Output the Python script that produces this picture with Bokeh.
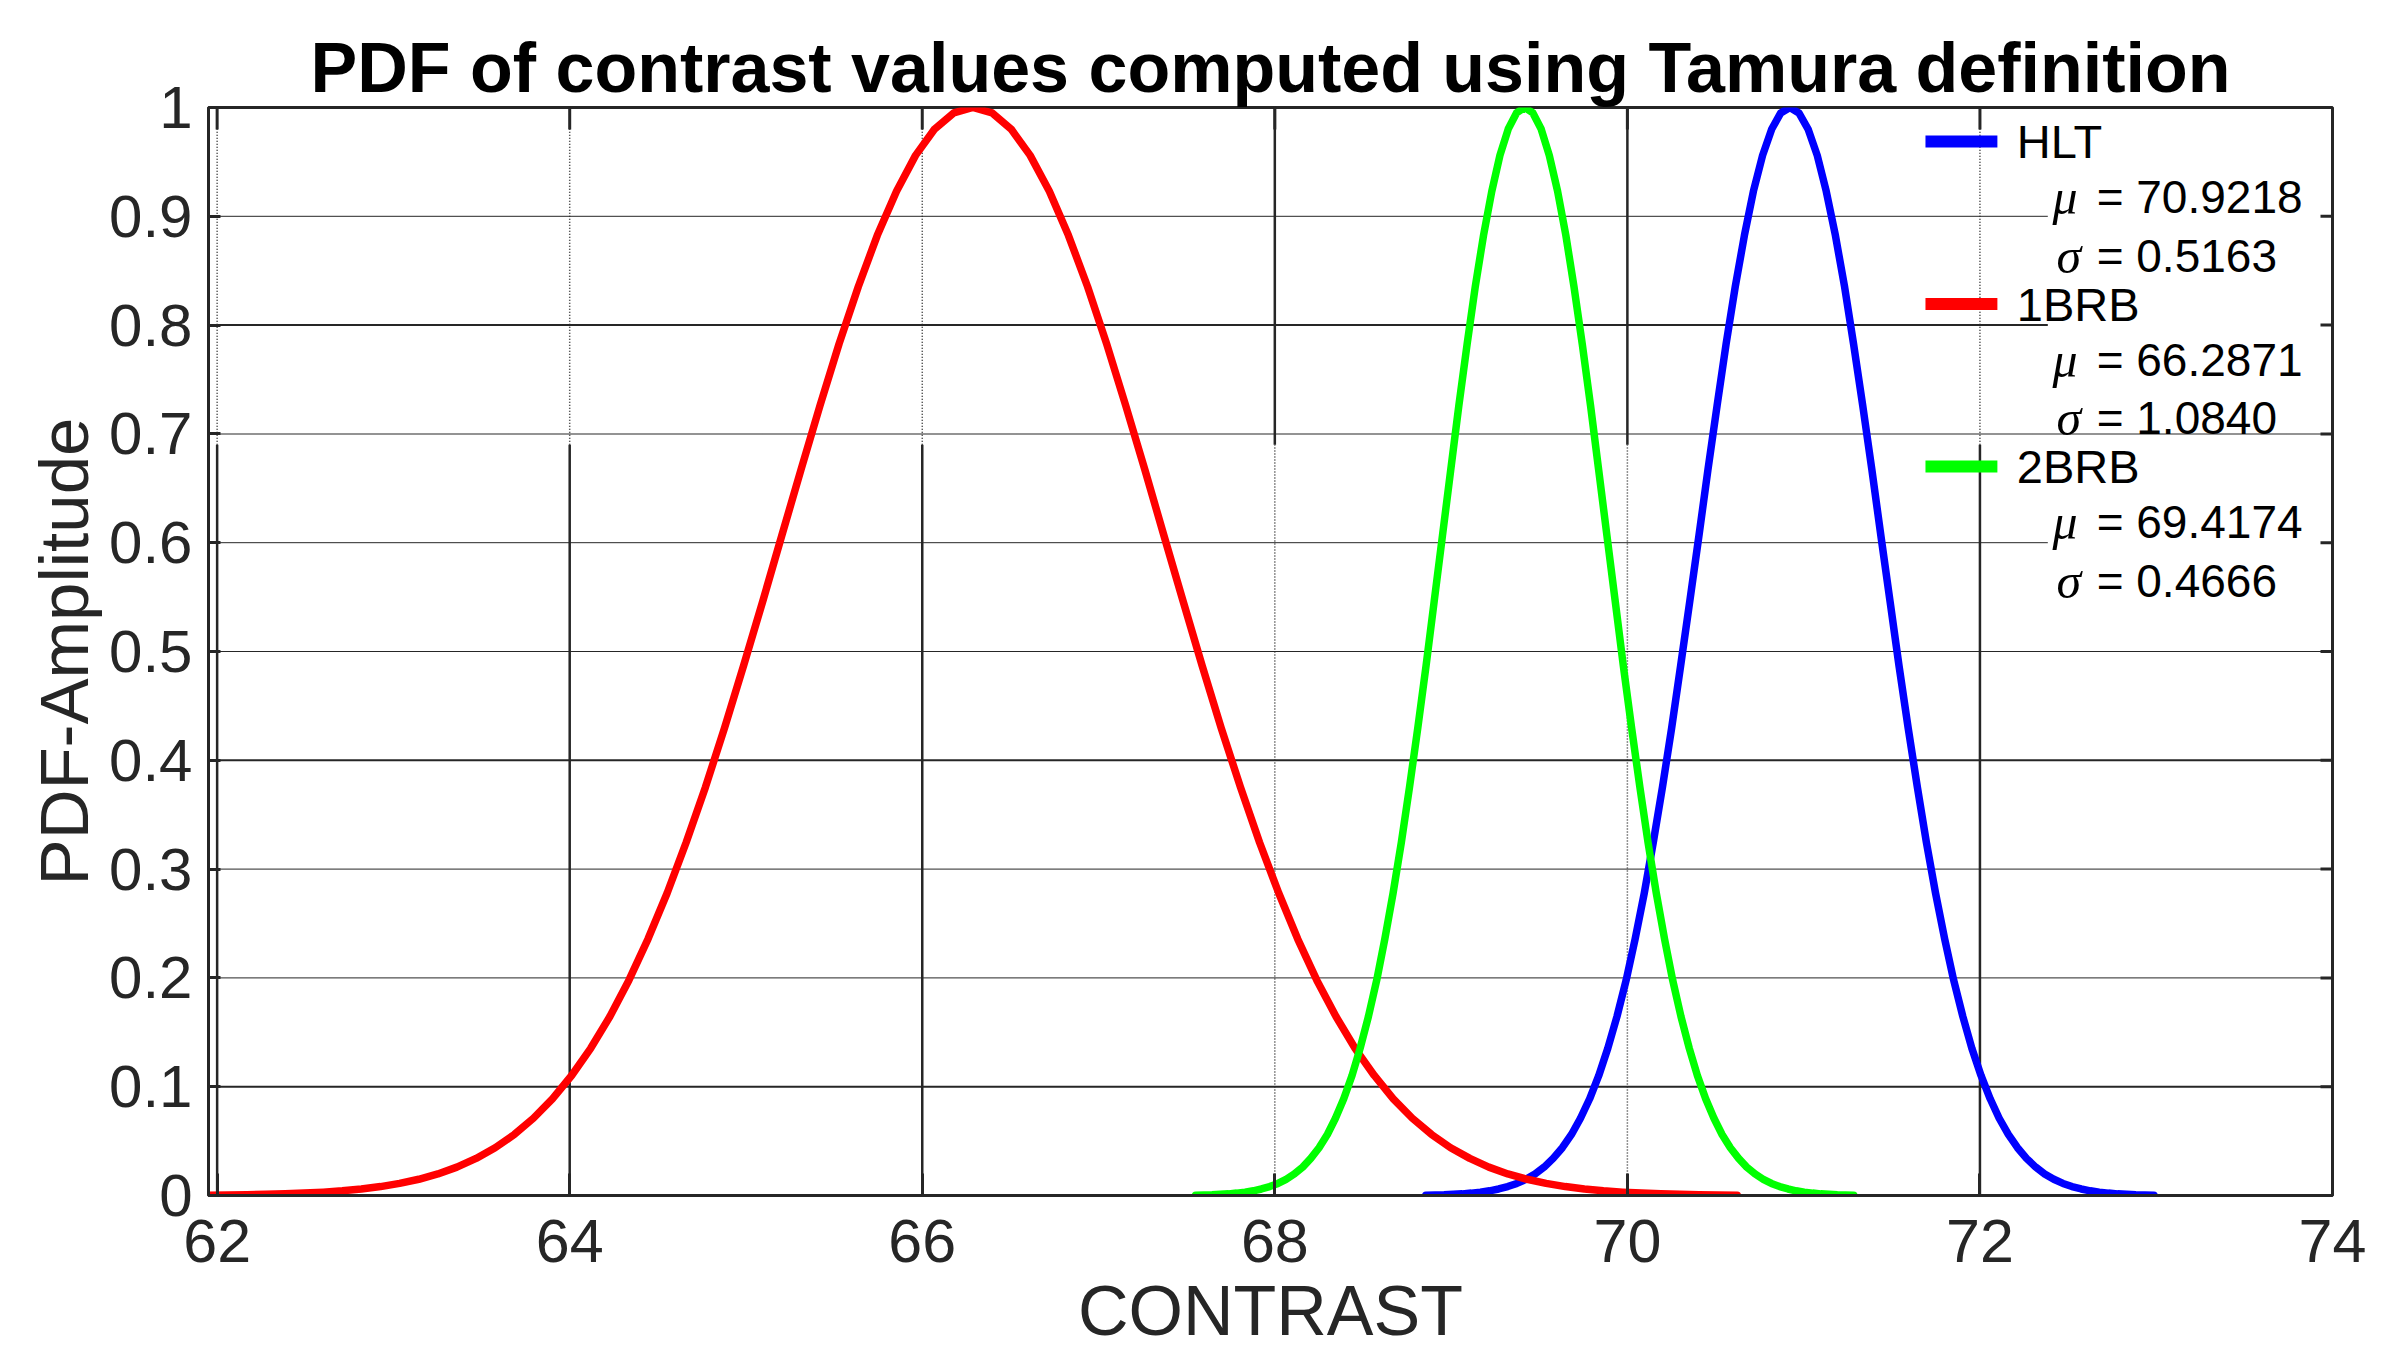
from math import pi
from bokeh.plotting import figure
from bokeh.models import Range1d, FixedTicker, Title
from bokeh.embed import file_html
from bokeh.resources import INLINE
from bokeh.core.properties import value

# ---------------- data ----------------
TITLE = "PDF of contrast values computed using Tamura definition"
X_LABEL = "CONTRAST"
Y_LABEL = "PDF-Amplitude"
X_TICKS = [62, 64, 66, 68, 70, 72, 74]
Y_TICKS = [0, 0.1, 0.2, 0.3, 0.4, 0.5, 0.6, 0.7, 0.8, 0.9, 1]
Y_TICK_LABELS = ["0", "0.1", "0.2", "0.3", "0.4", "0.5", "0.6", "0.7", "0.8", "0.9", "1"]

SERIES = ["HLT", "1BRB", "2BRB"]
MU = [70.9218, 66.2871, 69.4174]
SIGMA = [0.5163, 1.0840, 0.4666]

HLT_X = [68.857, 68.908, 68.960, 69.012, 69.063, 69.115, 69.166, 69.218, 69.270, 69.321,
         69.373, 69.425, 69.476, 69.528, 69.579, 69.631, 69.683, 69.734, 69.786, 69.838,
         69.889, 69.941, 69.993, 70.044, 70.096, 70.147, 70.199, 70.251, 70.302, 70.354,
         70.406, 70.457, 70.509, 70.560, 70.612, 70.664, 70.715, 70.767, 70.819, 70.870,
         70.922, 70.973, 71.025, 71.077, 71.128, 71.180, 71.232, 71.283, 71.335, 71.387,
         71.438, 71.490, 71.541, 71.593, 71.645, 71.696, 71.748, 71.800, 71.851, 71.903,
         71.954, 72.006, 72.058, 72.109, 72.161, 72.213, 72.264, 72.316, 72.367, 72.419,
         72.471, 72.522, 72.574, 72.626, 72.677, 72.729, 72.781, 72.832, 72.884, 72.935,
         72.987]
HLT_Y = [0.0003, 0.0005, 0.0007, 0.0011, 0.0015, 0.0022, 0.0031, 0.0043, 0.0060, 0.0082,
         0.0111, 0.0149, 0.0198, 0.0261, 0.0341, 0.0439, 0.0561, 0.0710, 0.0889, 0.1103,
         0.1353, 0.1645, 0.1979, 0.2357, 0.2780, 0.3247, 0.3753, 0.4296, 0.4868, 0.5461,
         0.6065, 0.6670, 0.7261, 0.7827, 0.8353, 0.8825, 0.9231, 0.9560, 0.9802, 0.9950,
         1.0000, 0.9950, 0.9802, 0.9560, 0.9231, 0.8825, 0.8353, 0.7827, 0.7261, 0.6670,
         0.6065, 0.5461, 0.4868, 0.4296, 0.3753, 0.3247, 0.2780, 0.2357, 0.1979, 0.1645,
         0.1353, 0.1103, 0.0889, 0.0710, 0.0561, 0.0439, 0.0341, 0.0261, 0.0198, 0.0149,
         0.0111, 0.0082, 0.0060, 0.0043, 0.0031, 0.0022, 0.0015, 0.0011, 0.0007, 0.0005,
         0.0003]

BRB1_X = [61.951, 62.060, 62.168, 62.276, 62.385, 62.493, 62.602, 62.710, 62.818, 62.927,
          63.035, 63.144, 63.252, 63.360, 63.469, 63.577, 63.686, 63.794, 63.902, 64.011,
          64.119, 64.228, 64.336, 64.444, 64.553, 64.661, 64.770, 64.878, 64.986, 65.095,
          65.203, 65.312, 65.420, 65.528, 65.637, 65.745, 65.854, 65.962, 66.070, 66.179,
          66.287, 66.396, 66.504, 66.612, 66.721, 66.829, 66.938, 67.046, 67.154, 67.263,
          67.371, 67.480, 67.588, 67.696, 67.805, 67.913, 68.022, 68.130, 68.238, 68.347,
          68.455, 68.564, 68.672, 68.780, 68.889, 68.997, 69.106, 69.214, 69.322, 69.431,
          69.539, 69.648, 69.756, 69.864, 69.973, 70.081, 70.190, 70.298, 70.406, 70.515,
          70.623]
BRB1_Y = [0.0003, 0.0005, 0.0007, 0.0011, 0.0015, 0.0022, 0.0031, 0.0043, 0.0060, 0.0082,
          0.0111, 0.0149, 0.0198, 0.0261, 0.0341, 0.0439, 0.0561, 0.0710, 0.0889, 0.1103,
          0.1353, 0.1645, 0.1979, 0.2357, 0.2780, 0.3247, 0.3753, 0.4296, 0.4868, 0.5461,
          0.6065, 0.6670, 0.7261, 0.7827, 0.8353, 0.8825, 0.9231, 0.9560, 0.9802, 0.9950,
          1.0000, 0.9950, 0.9802, 0.9560, 0.9231, 0.8825, 0.8353, 0.7827, 0.7261, 0.6670,
          0.6065, 0.5461, 0.4868, 0.4296, 0.3753, 0.3247, 0.2780, 0.2357, 0.1979, 0.1645,
          0.1353, 0.1103, 0.0889, 0.0710, 0.0561, 0.0439, 0.0341, 0.0261, 0.0198, 0.0149,
          0.0111, 0.0082, 0.0060, 0.0043, 0.0031, 0.0022, 0.0015, 0.0011, 0.0007, 0.0005,
          0.0003]

BRB2_X = [67.551, 67.598, 67.644, 67.691, 67.738, 67.784, 67.831, 67.878, 67.924, 67.971,
          68.018, 68.064, 68.111, 68.158, 68.204, 68.251, 68.298, 68.344, 68.391, 68.438,
          68.484, 68.531, 68.578, 68.624, 68.671, 68.718, 68.764, 68.811, 68.858, 68.904,
          68.951, 68.998, 69.044, 69.091, 69.137, 69.184, 69.231, 69.277, 69.324, 69.371,
          69.417, 69.464, 69.511, 69.557, 69.604, 69.651, 69.697, 69.744, 69.791, 69.837,
          69.884, 69.931, 69.977, 70.024, 70.071, 70.117, 70.164, 70.211, 70.257, 70.304,
          70.351, 70.397, 70.444, 70.491, 70.537, 70.584, 70.631, 70.677, 70.724, 70.771,
          70.817, 70.864, 70.911, 70.957, 71.004, 71.051, 71.097, 71.144, 71.191, 71.237,
          71.284]
BRB2_Y = [0.0003, 0.0005, 0.0007, 0.0011, 0.0015, 0.0022, 0.0031, 0.0043, 0.0060, 0.0082,
          0.0111, 0.0149, 0.0198, 0.0261, 0.0341, 0.0439, 0.0561, 0.0710, 0.0889, 0.1103,
          0.1353, 0.1645, 0.1979, 0.2357, 0.2780, 0.3247, 0.3753, 0.4296, 0.4868, 0.5461,
          0.6065, 0.6670, 0.7261, 0.7827, 0.8353, 0.8825, 0.9231, 0.9560, 0.9802, 0.9950,
          1.0000, 0.9950, 0.9802, 0.9560, 0.9231, 0.8825, 0.8353, 0.7827, 0.7261, 0.6670,
          0.6065, 0.5461, 0.4868, 0.4296, 0.3753, 0.3247, 0.2780, 0.2357, 0.1979, 0.1645,
          0.1353, 0.1103, 0.0889, 0.0710, 0.0561, 0.0439, 0.0341, 0.0261, 0.0198, 0.0149,
          0.0111, 0.0082, 0.0060, 0.0043, 0.0031, 0.0022, 0.0015, 0.0011, 0.0007, 0.0005,
          0.0003]

# ---------------- styling / layout ----------------
COLORS = ["#0000ff", "#ff0000", "#00ff00"]
AX_COLOR = "#262626"
FONT = "Liberation Sans"
GREEK_FONT = "Liberation Serif"

X_MAX = 74
Y_MIN, Y_MAX = 0, 1
GRID_BREAK = 0.69             # height where the grid line styles swap
V_UPPER_SOLID = [68, 70]      # vertical grid: solid above the break for these
H_THICK = [0.1, 0.4, 0.8]
H_DOTTED = [0.7]

# legend placement (data units of the axes)
LEG_BOX = (72.385, 73.985, 0.533, 0.998)
LEG_SAMPLE_X = (71.691, 72.099)
LEG_NAME_X = 72.209
LEG_MU_X = 72.412
LEG_SIG_X = 72.435
LEG_VAL_X = 72.662
LEG_ROW_Y = [0.9688, 0.8193, 0.6701]
LEG_MU_DY = 0.0515
LEG_SIG_DY = 0.105

x_lo = min(BRB1_X)
p = figure(width=2384, height=1350, frame_width=2124, frame_height=1088,
           x_range=Range1d(x_lo, X_MAX), y_range=Range1d(Y_MIN, Y_MAX),
           output_backend="svg", toolbar_location=None,
           min_border_left=208, min_border_right=52, min_border_top=107, min_border_bottom=155)
p.outline_line_color = AX_COLOR
p.outline_line_width = 3
p.outline_line_alpha = 1
p.background_fill_color = "white"
p.border_fill_color = "white"
p.xgrid.grid_line_color = None
p.ygrid.grid_line_color = None

# ---- grid lines ----
vgrid = X_TICKS[:-1]
up_solid = [t for t in vgrid if t in V_UPPER_SOLID]
up_dot = [t for t in vgrid if t not in V_UPPER_SOLID]
p.segment(x0=up_solid, x1=up_solid, y0=[GRID_BREAK] * len(up_solid), y1=[Y_MAX] * len(up_solid),
          line_color=AX_COLOR, line_width=2.5)
p.segment(x0=up_dot, x1=up_dot, y0=[GRID_BREAK] * len(up_dot), y1=[Y_MAX] * len(up_dot),
          line_color=AX_COLOR, line_width=1.5, line_dash="1 2")
p.segment(x0=up_dot, x1=up_dot, y0=[Y_MIN] * len(up_dot), y1=[GRID_BREAK] * len(up_dot),
          line_color=AX_COLOR, line_width=2.5)
p.segment(x0=up_solid, x1=up_solid, y0=[Y_MIN] * len(up_solid), y1=[GRID_BREAK] * len(up_solid),
          line_color=AX_COLOR, line_width=1.5, line_dash="1 2")

hgrid = Y_TICKS[1:-1]
h_thick = [t for t in hgrid if t in H_THICK]
h_thin = [t for t in hgrid if t not in H_THICK and t not in H_DOTTED]
h_dot = [t for t in hgrid if t in H_DOTTED]
p.segment(x0=[x_lo] * len(h_thick), x1=[X_MAX] * len(h_thick), y0=h_thick, y1=h_thick,
          line_color=AX_COLOR, line_width=2)
p.segment(x0=[x_lo] * len(h_thin), x1=[X_MAX] * len(h_thin), y0=h_thin, y1=h_thin,
          line_color=AX_COLOR, line_width=1)

# legend background (kept inside the box outline)
p.quad(left=[LEG_BOX[0]], right=[LEG_BOX[1]], bottom=[LEG_BOX[2]], top=[LEG_BOX[3]],
       fill_color="white", line_color=None)

p.segment(x0=[x_lo] * len(h_dot), x1=[X_MAX] * len(h_dot), y0=h_dot, y1=h_dot,
          line_color=AX_COLOR, line_width=2, line_dash="1 1")

# mirrored ticks on the top and right edges of the box
p.ray(x=X_TICKS, y=[Y_MAX] * len(X_TICKS), length=22, length_units="screen",
      angle=-pi / 2, line_color=AX_COLOR, line_width=3)
p.ray(x=[X_MAX] * len(Y_TICKS), y=Y_TICKS, length=12, length_units="screen",
      angle=pi, line_color=AX_COLOR, line_width=3)

# ---- curves ----
for xs, ys, c in [(HLT_X, HLT_Y, COLORS[0]), (BRB1_X, BRB1_Y, COLORS[1]), (BRB2_X, BRB2_Y, COLORS[2])]:
    p.line(xs, ys, line_color=c, line_width=7.5, line_cap="round", line_join="round")

# ---- legend ----
for i, name in enumerate(SERIES):
    yb = LEG_ROW_Y[i]
    p.segment(x0=[LEG_SAMPLE_X[0]], x1=[LEG_SAMPLE_X[1]], y0=[yb], y1=[yb],
              line_color=COLORS[i], line_width=12)
p.text(x=[LEG_NAME_X] * 3, y=LEG_ROW_Y, text=SERIES,
       text_font=value(FONT), text_font_size="47px", text_color="black", text_baseline="middle")
p.text(x=[LEG_MU_X] * 3, y=[y - LEG_MU_DY for y in LEG_ROW_Y], text=["\u03bc"] * 3,
       text_font=value(GREEK_FONT), text_font_style="italic", text_font_size="50px",
       text_color="black", text_baseline="middle")
p.text(x=[LEG_SIG_X] * 3, y=[y - LEG_SIG_DY for y in LEG_ROW_Y], text=["\u03c3"] * 3,
       text_font=value(GREEK_FONT), text_font_style="italic", text_font_size="50px",
       text_color="black", text_baseline="middle")
p.text(x=[LEG_VAL_X] * 3, y=[y - LEG_MU_DY for y in LEG_ROW_Y], text=["= %.4f" % m for m in MU],
       text_font=value(FONT), text_font_size="46px", text_color="black", text_baseline="middle")
p.text(x=[LEG_VAL_X] * 3, y=[y - LEG_SIG_DY for y in LEG_ROW_Y], text=["= %.4f" % s for s in SIGMA],
       text_font=value(FONT), text_font_size="46px", text_color="black", text_baseline="middle")

# ---- axes ----
def style_axis(ax, tick_len, label_size, title_size):
    ax.axis_line_color = AX_COLOR
    ax.axis_line_width = 3
    ax.major_tick_line_color = AX_COLOR
    ax.major_tick_line_width = 3
    ax.major_tick_in = tick_len
    ax.major_tick_out = 0
    ax.minor_tick_line_color = None
    ax.major_label_text_font = FONT
    ax.major_label_text_color = AX_COLOR
    ax.major_label_text_font_size = label_size
    ax.axis_label_text_font = FONT
    ax.axis_label_text_color = AX_COLOR
    ax.axis_label_text_font_size = title_size
    ax.axis_label_text_font_style = "normal"

xax = p.xaxis[0]
xax.ticker = FixedTicker(ticks=X_TICKS)
style_axis(xax, 22, "61px", "70px")
xax.axis_label = X_LABEL
xax.major_label_standoff = 24
xax.axis_label_standoff = 7

yax = p.yaxis[0]
yax.ticker = FixedTicker(ticks=Y_TICKS)
style_axis(yax, 12, "60px", "69px")
yax.major_label_overrides = {t: s for t, s in zip(Y_TICKS, Y_TICK_LABELS)}
yax.axis_label = Y_LABEL
yax.major_label_standoff = 16
yax.axis_label_standoff = 3

p.title = Title(text=TITLE, align="center", text_font=FONT, text_font_size="70px",
                text_font_style="bold", text_color="black", standoff=2)

open("out.html", "w").write(file_html(p, INLINE))
